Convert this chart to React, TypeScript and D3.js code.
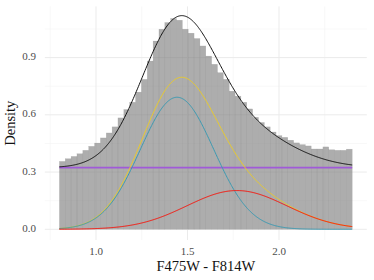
import React from "react";
import * as d3 from "d3";

// Histogram densities (50 bins from 0.8 to 2.4)
const binLo = 0.8;
const binHi = 2.4;
const densities = [
  0.356, 0.37, 0.382, 0.396, 0.414, 0.435, 0.452, 0.479, 0.505, 0.537,
  0.584, 0.628, 0.666, 0.719, 0.786, 0.882, 0.987, 1.049, 1.084, 1.105,
  1.096, 1.049, 1.028, 1.0, 0.961, 0.908, 0.865, 0.821, 0.786, 0.724,
  0.698, 0.666, 0.631, 0.587, 0.56, 0.537, 0.51, 0.491, 0.482, 0.467,
  0.453, 0.444, 0.437, 0.421, 0.421, 0.432, 0.417, 0.414, 0.414, 0.42,
];

// Fitted mixture components
const gaussMeans = [1.443, 1.77];
const gaussSds = [0.2, 0.273];
const gaussWeights = [0.347, 0.139];
const uniformLevel = 0.323;

const xTicks = [1.0, 1.5, 2.0];
const xMinor = [0.75, 1.25, 1.75, 2.25];
const yTicks = [0.0, 0.3, 0.6, 0.9];
const yMinor = [0.15, 0.45, 0.75, 1.05];

const W = 374;
const H = 280;
const x = d3.scaleLinear().domain([1, 2]).range([96, 279]);
const y = d3.scaleLinear().domain([0, 0.9]).range([229.3, 57.6]);
const panel = { x0: 44.8, x1: 366.8, y0: 6.4, y1: 240 };

const norm = (v: number, m: number, s: number) =>
  Math.exp(-((v - m) ** 2) / (2 * s * s)) / (s * Math.sqrt(2 * Math.PI));

export default function App() {
  const nb = densities.length;
  const bw = (binHi - binLo) / nb;
  const grid = d3.range(0, 401).map((i) => binLo + (i * (binHi - binLo)) / 400);
  const blue = grid.map((v) => [v, gaussWeights[0] * norm(v, gaussMeans[0], gaussSds[0])] as [number, number]);
  const red = grid.map((v) => [v, gaussWeights[1] * norm(v, gaussMeans[1], gaussSds[1])] as [number, number]);
  const yellow = grid.map((v, i) => [v, blue[i][1] + red[i][1]] as [number, number]);
  const black = grid.map((v, i) => [v, yellow[i][1] + uniformLevel] as [number, number]);
  const purple: [number, number][] = [[binLo, uniformLevel], [binHi, uniformLevel]];
  const line = d3.line<[number, number]>().x((d) => x(d[0])).y((d) => y(d[1]));
  const font = "'Liberation Serif', 'DejaVu Serif', serif";

  return (
    <svg width={W} height={H} style={{ position: "absolute", left: 0, top: 0 }}>
      <rect width={W} height={H} fill="#fff" />
      {xMinor.map((t) => (
        <line key={"xm" + t} x1={x(t)} x2={x(t)} y1={panel.y0} y2={panel.y1} stroke="#f4f4f4" strokeWidth={0.6} />
      ))}
      {yMinor.map((t) => (
        <line key={"ym" + t} x1={panel.x0} x2={panel.x1} y1={y(t)} y2={y(t)} stroke="#f4f4f4" strokeWidth={0.6} />
      ))}
      {xTicks.map((t) => (
        <line key={"xg" + t} x1={x(t)} x2={x(t)} y1={panel.y0} y2={panel.y1} stroke="#ebebeb" strokeWidth={1} />
      ))}
      {yTicks.map((t) => (
        <line key={"yg" + t} x1={panel.x0} x2={panel.x1} y1={y(t)} y2={y(t)} stroke="#ebebeb" strokeWidth={1} />
      ))}
      {densities.map((d, i) => {
        const a = binLo + i * bw;
        return (
          <rect
            key={"b" + i}
            x={x(a)}
            y={y(d)}
            width={x(a + bw) - x(a)}
            height={y(0) - y(d)}
            fill="#7f7f7f"
            fillOpacity={0.64}
            stroke="#8f8f8f"
            strokeOpacity={0.4}
            strokeWidth={0.4}
          />
        );
      })}
      <path d={line(purple) || ""} fill="none" stroke="#a05ad8" strokeWidth={1.8} />
      <path d={line(yellow) || ""} fill="none" stroke="#ebcc2a" strokeWidth={1} />
      <path d={line(blue) || ""} fill="none" stroke="#3b9ab2" strokeWidth={1} />
      <path d={line(red) || ""} fill="none" stroke="#f8130a" strokeWidth={1} />
      <path d={line(black) || ""} fill="none" stroke="#111" strokeWidth={1} />
      {xTicks.map((t) => (
        <text key={"xt" + t} x={x(t)} y={252} textAnchor="middle" dominantBaseline="middle" fontFamily={font} fontSize={11} fill="#4d4d4d">
          {t.toFixed(1)}
        </text>
      ))}
      {yTicks.map((t) => (
        <text key={"yt" + t} x={36} y={y(t)} textAnchor="end" dominantBaseline="middle" fontFamily={font} fontSize={11} fill="#4d4d4d">
          {t.toFixed(1)}
        </text>
      ))}
      <text x={(panel.x0 + panel.x1) / 2} y={271} textAnchor="middle" fontFamily={font} fontSize={14.5} fill="#111">
        F475W - F814W
      </text>
      <text
        transform={`translate(15,${(panel.y0 + panel.y1) / 2}) rotate(-90)`}
        textAnchor="middle"
        fontFamily={font}
        fontSize={14.5}
        fill="#111"
      >
        Density
      </text>
    </svg>
  );
}
